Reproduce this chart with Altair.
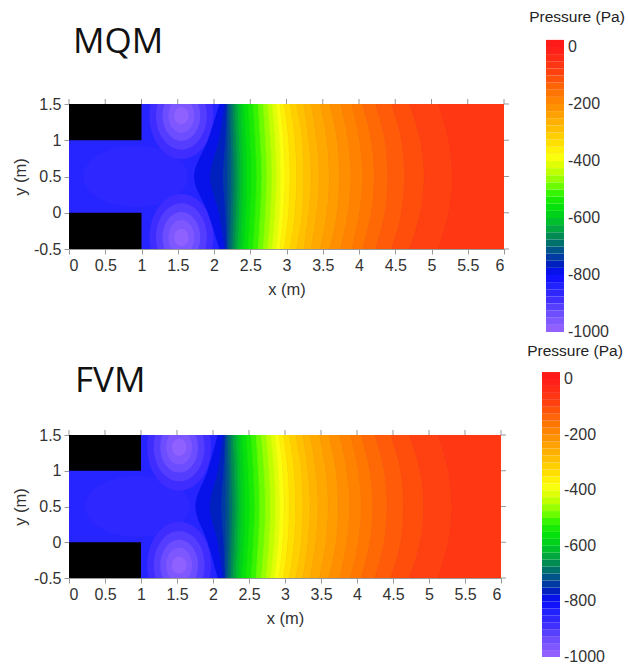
import altair as alt
import pandas as pd

FONT = "Liberation Sans"
TITLE_FONT = "Open Sans"

# ---------------- colour map (Pa -> colour) ----------------
CMAP_P = [-1000, -940, -880, -840, -800, -760, -712, -665, -618, -571, -524,
          -477, -430, -383, -348, -289, -230, -170, -86, 0]
CMAP_C = ["#9966ff", "#7050ff", "#3a2aff", "#2424ff", "#0a0aff", "#0022bb",
          "#005588", "#008855", "#00bb30", "#00dd10", "#20f000", "#80ff00",
          "#ccff00", "#ffff10", "#ffe600", "#ffc000", "#ff9c00", "#ff7a00",
          "#ff4010", "#ff1a1a"]

# ---------------- axes / colour bar labels ----------------
X_TICKS = [0, 0.5, 1, 1.5, 2, 2.5, 3, 3.5, 4, 4.5, 5, 5.5, 6]
Y_TICKS = [-0.5, 0, 0.5, 1, 1.5]
CB_LABELS = [0, -200, -400, -600, -800, -1000]
CB_LEVELS = list(range(-1000, 25, 25))   # colour-bar bands (25 Pa each)
CB_STEP = 25
X_MIN, X_MAX, Y_MIN, Y_MAX = 0.0, 6.0, -0.5, 1.5

# solid blocks (black) at the inlet
OBST_X0 = [0.0, 0.0]
OBST_X1 = [1.0, 1.0]
OBST_Y0 = [1.0, -0.5]
OBST_Y1 = [1.5, 0.0]

# contour x-positions are read at these heights (edge, quarter, centre, quarter, edge)
Y_SAMPLES = [-0.5, 0.0, 0.5, 1.0, 1.5]

# ---------------- MQM field ----------------
MQM_LEVELS = [-800, -775, -750, -725, -700, -675, -650, -625, -600, -575, -550,
              -525, -500, -475, -450, -425, -400, -375, -350, -325, -300, -280,
              -260, -240, -220, -195, -175, -155, -135, -115, -95, -75]
MQM_X_EDGE = [2.08, 2.15, 2.18, 2.19, 2.22, 2.26, 2.29, 2.33, 2.37, 2.41, 2.47,
              2.54, 2.61, 2.68, 2.74, 2.80, 2.86, 2.91, 2.97, 3.05, 3.14, 3.24,
              3.34, 3.47, 3.60, 3.75, 3.90, 4.05, 4.23, 4.45, 4.70, 5.10]
MQM_X_MID = [1.92, 2.07, 2.16, 2.19, 2.235, 2.27, 2.31, 2.35, 2.39, 2.44, 2.50,
             2.57, 2.64, 2.71, 2.78, 2.845, 2.905, 2.96, 3.03, 3.12, 3.22, 3.31,
             3.42, 3.56, 3.70, 3.85, 4.01, 4.17, 4.36, 4.59, 4.85, 5.24]
MQM_X_CENTER = [1.73, 1.95, 2.13, 2.19, 2.24, 2.28, 2.32, 2.36, 2.40, 2.45, 2.52,
                2.59, 2.66, 2.73, 2.80, 2.86, 2.92, 2.98, 3.05, 3.14, 3.24, 3.34,
                3.45, 3.59, 3.73, 3.89, 4.05, 4.21, 4.40, 4.63, 4.90, 5.29]
MQM_P_RIGHT = -55          # pressure at the outlet
MQM_P_BASE = -845          # channel region left of the -800 contour
MQM_CORE = dict(cx=0.92, cy=0.5, rx=0.72, ry=0.42, p=-860)   # lighter core of the jet
MQM_BLOB_CX = [1.55, 1.55]
MQM_BLOB_CY = [1.34, -0.34]
MQM_RING_P = [-885, -910, -935, -960, -985]
MQM_RING_RX = [0.44, 0.35, 0.26, 0.18, 0.10]
MQM_RING_RY = [0.60, 0.47, 0.35, 0.24, 0.12]

# ---------------- FVM field ----------------
FVM_LEVELS = MQM_LEVELS
FVM_X_EDGE = [2.07, 2.14, 2.17, 2.18, 2.21, 2.25, 2.28, 2.32, 2.36, 2.40, 2.46,
              2.53, 2.60, 2.67, 2.74, 2.80, 2.86, 2.92, 2.98, 3.06, 3.15, 3.25,
              3.35, 3.48, 3.61, 3.76, 3.91, 4.06, 4.25, 4.47, 4.73, 5.13]
FVM_X_MID = [1.93, 2.07, 2.15, 2.18, 2.225, 2.26, 2.30, 2.34, 2.38, 2.43, 2.49,
             2.56, 2.63, 2.71, 2.78, 2.85, 2.91, 2.97, 3.04, 3.13, 3.23, 3.32,
             3.43, 3.57, 3.71, 3.86, 4.02, 4.18, 4.38, 4.61, 4.88, 5.27]
FVM_X_CENTER = [1.76, 1.96, 2.12, 2.18, 2.23, 2.27, 2.31, 2.35, 2.39, 2.44, 2.51,
                2.58, 2.65, 2.73, 2.80, 2.87, 2.93, 2.99, 3.06, 3.15, 3.25, 3.35,
                3.46, 3.60, 3.74, 3.90, 4.06, 4.22, 4.42, 4.65, 4.93, 5.32]
FVM_P_RIGHT = -55
FVM_P_BASE = -845
FVM_CORE = dict(cx=0.95, cy=0.5, rx=0.72, ry=0.43, p=-860)
FVM_BLOB_CX = [1.53, 1.53]
FVM_BLOB_CY = [1.33, -0.32]
FVM_RING_P = [-885, -910, -935, -960, -985]
FVM_RING_RX = [0.44, 0.35, 0.26, 0.18, 0.10]
FVM_RING_RY = [0.60, 0.47, 0.35, 0.24, 0.12]


def cscale():
    return alt.Scale(domain=CMAP_P, range=CMAP_C, clamp=True, interpolate="rgb")


def ellipse_path(q):
    k = 0.5523
    return (f"M1,0 C1,{k*q:.4f} {k},{q:.4f} 0,{q:.4f} "
            f"C{-k},{q:.4f} -1,{k*q:.4f} -1,0 "
            f"C-1,{-k*q:.4f} {-k},{-q:.4f} 0,{-q:.4f} "
            f"C{k},{-q:.4f} 1,{-k*q:.4f} 1,0 Z")


def panel(name, lv, xe, xm, xc, p_right, p_base, core, bcx, bcy, rp, rrx, rry,
          W, H, layout):
    xscale = alt.Scale(domain=[X_MIN, X_MAX], nice=False, zero=False)
    yscale = alt.Scale(domain=[Y_MIN, Y_MAX], nice=False, zero=False)
    xaxis = alt.Axis(values=X_TICKS, title="x (m)", labelExpr="'' + datum.value",
                     tickSize=5, labelPadding=3, titlePadding=8, grid=False)
    yaxis = alt.Axis(values=Y_TICKS, title="y (m)", labelExpr="'' + datum.value",
                     tickSize=5, labelPadding=3, titlePadding=layout["ytp"], grid=False)

    def X(f):
        return alt.X(f, type="quantitative", scale=xscale, axis=xaxis)

    def Y(f):
        return alt.Y(f, type="quantitative", scale=yscale, axis=yaxis)

    C = alt.Color("p:Q", scale=cscale(), legend=None)

    # filled contour bands between consecutive contours
    rows = []
    for i, L in enumerate(lv):
        cur = [xe[i], xm[i], xc[i], xm[i], xe[i]]
        if i + 1 < len(lv):
            nxt = [xe[i + 1], xm[i + 1], xc[i + 1], xm[i + 1], xe[i + 1]]
            pn = lv[i + 1]
        else:
            nxt = [X_MAX] * 5
            pn = p_right
        for y, a, b in zip(Y_SAMPLES, cur, nxt):
            rows.append(dict(band=i, y=y, xl=a, xr=b, p=(L + pn) / 2))
    bands_df = pd.DataFrame(rows)

    base_df = pd.DataFrame([dict(x0=X_MIN, x1=X_MAX, y0=Y_MIN, y1=Y_MAX, p=p_base)])

    ell_rows = [dict(sid="core", cx=core["cx"], cy=core["cy"], rx=core["rx"],
                     q=core["ry"] / core["rx"], p=core["p"])]
    for b, (cx, cy) in enumerate(zip(bcx, bcy)):
        for r, (p, rx, ry) in enumerate(zip(rp, rrx, rry)):
            ell_rows.append(dict(sid=f"r{r}", cx=cx, cy=cy, rx=rx, q=ry / rx, p=p))
    ell_df = pd.DataFrame(ell_rows)
    sids = list(dict.fromkeys(ell_df["sid"]))
    paths = [ellipse_path(ell_df[ell_df.sid == s].q.iloc[0]) for s in sids]

    obst_df = pd.DataFrame(dict(x0=OBST_X0, x1=OBST_X1, y0=OBST_Y0, y1=OBST_Y1))
    xt_df = pd.DataFrame(dict(t=X_TICKS))
    yt_df = pd.DataFrame(dict(t=Y_TICKS))

    base = alt.Chart(base_df).mark_rect().encode(
        x=X("x0"), x2="x1", y=Y("y0"), y2="y1", color=C)
    ell = alt.Chart(ell_df).mark_point(filled=True, opacity=1, strokeWidth=0, clip=True).encode(
        x=X("cx"), y=Y("cy"),
        size=alt.Size("rx:Q", scale=alt.Scale(type="pow", exponent=2, domain=[0, 1],
                                              range=[0, (2 * W / 6.0) ** 2]), legend=None),
        shape=alt.Shape("sid:N", scale=alt.Scale(domain=sids, range=paths), legend=None),
        color=C)
    bands = alt.Chart(bands_df).mark_area(orient="horizontal", interpolate="monotone",
                                          strokeWidth=0.8, clip=True).encode(
        y=Y("y"), x=X("xl"), x2="xr", color=C,
        stroke=alt.Stroke("p:Q", scale=cscale(), legend=None),
        detail="band:N")
    obst = alt.Chart(obst_df).mark_rect(color="black").encode(
        x=X("x0"), x2="x1", y=Y("y0"), y2="y1")
    tick_top = alt.Chart(xt_df).mark_rule(color="#999", y2Offset=-5).encode(
        x=X("t"), y=alt.YDatum(Y_MAX, scale=yscale, axis=yaxis), y2=alt.Y2Datum(Y_MAX))
    tick_right = alt.Chart(yt_df).mark_rule(color="#999", x2Offset=5).encode(
        y=Y("t"), x=alt.XDatum(X_MAX, scale=xscale, axis=xaxis), x2=alt.X2Datum(X_MAX))
    ttl = alt.Chart(pd.DataFrame(dict(t=[name]))).mark_text(
        align="left", baseline="alphabetic", font=TITLE_FONT, fontSize=35, color="#111").encode(
        text="t:N", x=alt.value(layout["tx"]), y=alt.value(layout["ty"]))

    field = alt.layer(base, ell, bands, obst, tick_top, tick_right, ttl)

    # colour bar
    cb_scale = alt.Scale(domain=[-1000, 0], range=[layout["cb_bot"], layout["cb_top"]],
                         nice=False, zero=False)
    cb_df = pd.DataFrame(dict(v0=CB_LEVELS, v1=[v + CB_STEP for v in CB_LEVELS],
                              p=[v + CB_STEP / 2 for v in CB_LEVELS]))
    cb_rect = alt.Chart(cb_df).mark_rect().encode(
        x=alt.value(layout["cbx0"]), x2=alt.value(layout["cbx1"]),
        y=alt.Y("v0:Q", scale=cb_scale, axis=None), y2="v1:Q", color=C)
    lab_df = pd.DataFrame(dict(v=CB_LABELS, s=[str(v) for v in CB_LABELS]))
    cb_lab = alt.Chart(lab_df).mark_text(align="left", baseline="middle", font=FONT,
                                         fontSize=16, color="#333").encode(
        x=alt.value(layout["labx"]), y=alt.Y("v:Q", scale=cb_scale, axis=None), text="s:N")
    cb_title = alt.Chart(pd.DataFrame(dict(t=["Pressure (Pa)"]))).mark_text(
        align="center", baseline="middle", font=FONT, fontSize=15.5, color="#222").encode(
        text="t:N", x=alt.value(layout["ctx"]), y=alt.value(layout["cty"]))
    cbar = alt.layer(cb_rect, cb_lab, cb_title)

    return alt.layer(field, cbar).resolve_scale(y="independent").properties(width=W, height=H)


top = panel("MQM", MQM_LEVELS, MQM_X_EDGE, MQM_X_MID, MQM_X_CENTER, MQM_P_RIGHT,
            MQM_P_BASE, MQM_CORE, MQM_BLOB_CX, MQM_BLOB_CY, MQM_RING_P, MQM_RING_RX,
            MQM_RING_RY, 435, 145,
            dict(ytp=5, tx=4, ty=-51, cb_top=-57, cb_bot=228, cbx0=477, cbx1=495,
                 labx=499, ctx=508, cty=-87))
bottom = panel("FVM", FVM_LEVELS, FVM_X_EDGE, FVM_X_MID, FVM_X_CENTER, FVM_P_RIGHT,
               FVM_P_BASE, FVM_CORE, FVM_BLOB_CX, FVM_BLOB_CY, FVM_RING_P, FVM_RING_RX,
               FVM_RING_RY, 432, 143,
               dict(ytp=5, tx=6, ty=-43, cb_top=-56, cb_bot=222, cbx0=473, cbx1=491,
                    labx=495, ctx=506, cty=-84))

chart = alt.vconcat(top, bottom, spacing=186, bounds="flush").properties(
    padding={"left": 12, "top": 10, "right": 2, "bottom": 4}
).configure_view(stroke=None).configure_axis(
    labelFont=FONT, titleFont=FONT, labelFontSize=16, titleFontSize=16.5,
    titleFontWeight="normal", labelColor="#333", titleColor="#333",
    domainColor="#999", tickColor="#999"
)

chart.save("out.html", embed_options={"renderer": "svg", "actions": False})
